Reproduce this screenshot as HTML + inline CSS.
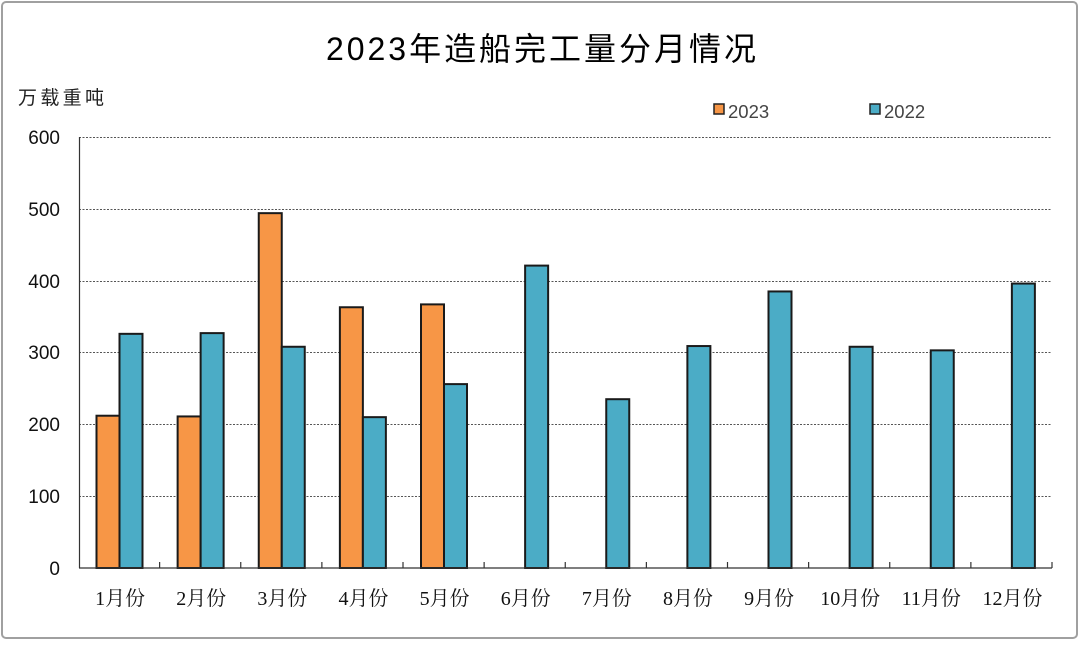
<!DOCTYPE html>
<html><head><meta charset="utf-8"><style>body{margin:0;background:#fff}</style></head><body>
<svg width="1080" height="641" xmlns="http://www.w3.org/2000/svg">
<rect x="2" y="2" width="1075" height="636" rx="4" fill="#fff" stroke="#a0a0a0" stroke-width="2"/>
<text x="326" y="60" textLength="430" lengthAdjust="spacing" font-family="Liberation Sans, Noto Sans CJK SC, sans-serif" font-size="32" fill="#000">2023年造船完工量分月情况</text>
<text x="18" y="104" textLength="86" lengthAdjust="spacing" font-family="Liberation Sans, Noto Sans CJK SC, sans-serif" font-size="19" fill="#222">万载重吨</text>
<rect x="714" y="104" width="10" height="10" fill="#F79646" stroke="#222" stroke-width="1.5"/>
<text x="728" y="118" font-family="Liberation Sans, sans-serif" font-size="18.5" fill="#444">2023</text>
<rect x="870" y="104" width="10" height="10" fill="#4BACC6" stroke="#222" stroke-width="1.5"/>
<text x="884" y="118" font-family="Liberation Sans, sans-serif" font-size="18.5" fill="#444">2022</text>
<g stroke="#555" stroke-width="1" stroke-dasharray="2,1.5">
<line x1="79" y1="137.5" x2="1052" y2="137.5"/><line x1="79" y1="209.5" x2="1052" y2="209.5"/><line x1="79" y1="281.5" x2="1052" y2="281.5"/><line x1="79" y1="352.5" x2="1052" y2="352.5"/><line x1="79" y1="424.5" x2="1052" y2="424.5"/><line x1="79" y1="496.5" x2="1052" y2="496.5"/>
</g>
<g font-family="Liberation Sans, sans-serif" font-size="19" fill="#111" text-anchor="end">
<text x="60" y="144">600</text><text x="60" y="216">500</text><text x="60" y="288">400</text><text x="60" y="359">300</text><text x="60" y="431">200</text><text x="60" y="503">100</text><text x="60" y="575">0</text>
</g>
<g id="bars" stroke="#1a1a1a" stroke-width="2"></g>
<g stroke="#333" stroke-width="1.2" fill="none">
<line x1="79.5" y1="137" x2="79.5" y2="568"/>
<line x1="79" y1="568" x2="1052" y2="568"/>
</g>
<g id="ticks" stroke="#333" stroke-width="1.2"></g>
<g id="labels" font-family="Liberation Serif, Noto Serif CJK SC, serif" font-size="20" fill="#111" text-anchor="middle"></g>
<script>
var o=[212,211,494,363,367],b=[326,327,308,210,256,421,235,309,385,308,303,396];
var ns="http://www.w3.org/2000/svg",g=document.getElementById('bars'),t=document.getElementById('ticks'),l=document.getElementById('labels');
var w=(1052-78.5)/12;
function r(x,v,c){var e=document.createElementNS(ns,'rect');var h=v*0.7183;e.setAttribute('x',x);e.setAttribute('y',568-h);e.setAttribute('width',23);e.setAttribute('height',h);e.setAttribute('fill',c);g.appendChild(e);}
for(var i=0;i<12;i++){var s=78.5+i*w;
if(i<5)r(s+18,o[i],'#F79646');r(s+41,b[i],'#4BACC6');
var k=document.createElementNS(ns,'line');var tx=s+w;k.setAttribute('x1',tx);k.setAttribute('x2',tx);k.setAttribute('y1',562);k.setAttribute('y2',568);t.appendChild(k);
var tt=document.createElementNS(ns,'text');tt.setAttribute('x',s+w/2+1);tt.setAttribute('y',605);tt.textContent=(i+1)+'月份';l.appendChild(tt);}
</script>
</svg>
</body></html>
